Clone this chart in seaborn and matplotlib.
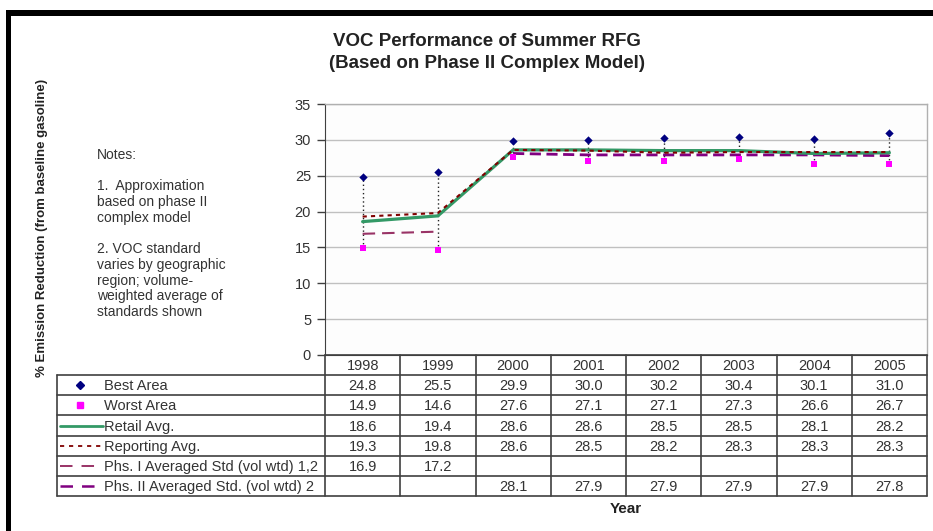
import numpy as np
import pandas as pd
import matplotlib
matplotlib.use("Agg")
import matplotlib.pyplot as plt
import seaborn as sns
from matplotlib.patches import Rectangle

# ---- data ----
years = ["1998", "1999", "2000", "2001", "2002", "2003", "2004", "2005"]
best_area = [24.8, 25.5, 29.9, 30.0, 30.2, 30.4, 30.1, 31.0]
worst_area = [14.9, 14.6, 27.6, 27.1, 27.1, 27.3, 26.6, 26.7]
retail_avg = [18.6, 19.4, 28.6, 28.6, 28.5, 28.5, 28.1, 28.2]
reporting_avg = [19.3, 19.8, 28.6, 28.5, 28.2, 28.3, 28.3, 28.3]
phs1_std = [16.9, 17.2, np.nan, np.nan, np.nan, np.nan, np.nan, np.nan]
phs2_std = [np.nan, np.nan, 28.1, 27.9, 27.9, 27.9, 27.9, 27.8]

series_names = ["Best Area", "Worst Area", "Retail Avg.", "Reporting Avg.",
                "Phs. I Averaged Std (vol wtd) 1,2",
                "Phs. II Averaged Std. (vol wtd) 2"]

df = pd.DataFrame({
    "year": years,
    "pos": np.arange(len(years)) + 0.5,
    "best": best_area,
    "worst": worst_area,
    "retail": retail_avg,
    "reporting": reporting_avg,
    "phs1": phs1_std,
    "phs2": phs2_std,
})

sns.set_style("white")
plt.rcParams["font.family"] = ["Liberation Sans", "DejaVu Sans"]
plt.rcParams["lines.scale_dashes"] = False
TXT = "#222222"
FS = 10.5  # table / tick text

W, H = 933, 531
fig = plt.figure(figsize=(W / 100, H / 100), dpi=100)

def fx(px):
    return px / W

def fy(py):
    return 1 - py / H

# plot area
L, R, T, B = 325, 927, 104, 355
ax = fig.add_axes([fx(L), fy(B), fx(R - L), (B - T) / H])

# high-low lines
ax.vlines(df["pos"], df["worst"], df["best"], colors="#222222",
          linestyles=(0, (1, 2)), linewidth=1, zorder=2)

sns.lineplot(data=df, x="pos", y="retail", ax=ax, color="#339966",
             linewidth=2.3, zorder=4)
sns.lineplot(data=df, x="pos", y="reporting", ax=ax, color="#800000",
             linewidth=1.5, linestyle=(0, (3, 3)), zorder=5)
sns.lineplot(data=df.dropna(subset=["phs1"]), x="pos", y="phs1", ax=ax,
             color="#993366", linewidth=1.5, linestyle=(0, (9, 5)), zorder=3)
sns.lineplot(data=df.dropna(subset=["phs2"]), x="pos", y="phs2", ax=ax,
             color="#800080", linewidth=2.0, linestyle=(0, (8, 4)), zorder=3)
sns.scatterplot(data=df, x="pos", y="best", ax=ax, marker="D", s=18,
                color="#000080", linewidth=0, zorder=6)
sns.scatterplot(data=df, x="pos", y="worst", ax=ax, marker="s", s=24,
                color="#FF00FF", linewidth=0, zorder=6)

ax.set_xlim(0, len(years))
ax.set_ylim(0, 35)
ax.set_yticks(np.arange(0, 36, 5))
ax.set_xticks([])
ax.set_xlabel("")
ax.set_ylabel("")
ax.yaxis.grid(True, color="#c0c0c0", linewidth=1)
ax.set_axisbelow(True)
ax.tick_params(axis="y", which="major", direction="out", length=6, width=1,
               color="#404040", labelsize=FS, labelcolor="#333333", pad=4, left=True)
for side in ["top", "right"]:
    ax.spines[side].set_color("#b0b0b0")
    ax.spines[side].set_linewidth(1)
ax.spines["left"].set_color("#404040")
ax.spines["bottom"].set_color("#404040")
ax.set_facecolor("#fdfdfd")

# data table under the plot
TL, TB = 57, 496
n = len(years)
col_w = (R - L) / n
x_left = (TL - L) / col_w
tab = fig.add_axes([fx(TL), fy(TB), fx(R - TL), (TB - B) / H])
tab.set_xlim(x_left, n)
tab.set_ylim(7, 0)
tab.axis("off")

lc = "#404040"
tab.plot([0, n], [0, 0], color=lc, lw=1.2, clip_on=False)
for r in range(1, 8):
    tab.plot([x_left, n], [r, r], color=lc, lw=1.2, clip_on=False)
for c in range(0, n + 1):
    tab.plot([c, c], [0, 7], color=lc, lw=1.2, clip_on=False)
tab.plot([x_left, x_left], [1, 7], color=lc, lw=1.2, clip_on=False)

rows = [best_area, worst_area, retail_avg, reporting_avg, phs1_std, phs2_std]
for c, yr in enumerate(years):
    tab.text(c + 0.5, 0.55, yr, ha="center", va="center", fontsize=FS, color="#333333")
    for r, vals in enumerate(rows):
        v = vals[c]
        if not np.isnan(v):
            tab.text(c + 0.5, r + 1.55, f"{v:.1f}", ha="center", va="center",
                     fontsize=FS, color="#333333")

def tx(px):
    return (px - L) / col_w

# legend keys in the first column
tab.plot([tx(80)], [1.5], marker="D", ms=4.2, color="#000080", ls="none", clip_on=False)
tab.plot([tx(80)], [2.5], marker="s", ms=4.8, color="#FF00FF", ls="none", clip_on=False)
tab.plot([tx(60), tx(103)], [3.5, 3.5], color="#339966", lw=2.0, clip_on=False)
tab.plot([tx(60), tx(101)], [4.5, 4.5], color="#800000", lw=1.3,
         ls=(0, (3, 3.5)), clip_on=False)
tab.plot([tx(60), tx(98)], [5.5, 5.5], color="#993366", lw=1.4,
         ls=(0, (9, 6.5)), clip_on=False)
tab.plot([tx(60), tx(98)], [6.5, 6.5], color="#800080", lw=1.8,
         ls=(0, (9, 6.5)), clip_on=False)
for r, name in enumerate(series_names):
    tab.text(tx(104), r + 1.55, name, ha="left", va="center", fontsize=FS, color="#333333")

# titles and labels
fig.text(fx(487), fy(41), "VOC Performance of Summer RFG", ha="center", va="center",
         fontsize=13.5, fontweight="bold", color=TXT)
fig.text(fx(487), fy(63), "(Based on Phase II Complex Model)", ha="center", va="center",
         fontsize=13.5, fontweight="bold", color=TXT)
fig.text(fx(42), fy(228), "% Emission Reduction (from baseline gasoline)", rotation=90,
         ha="center", va="center", fontsize=9.5, fontweight="bold", color=TXT)
fig.text(fx(626), fy(509), "Year", ha="center", va="center", fontsize=11,
         fontweight="bold", color=TXT)

notes = ["Notes:", "", "1.  Approximation", "based on phase II", "complex model", "",
         "2. VOC standard", "varies by geographic", "region; volume-",
         "weighted average of", "standards shown"]
for i, line in enumerate(notes):
    fig.text(fx(97), fy(155 + i * 15.7), line, ha="left", va="center",
             fontsize=10, color="#333333")

# black frame on top and left
fig.add_artist(Rectangle((fx(6), fy(16)), 1 - fx(6), 6 / H, transform=fig.transFigure,
                         facecolor="black", edgecolor="none"))
fig.add_artist(Rectangle((fx(6), 0), 5 / W, fy(10), transform=fig.transFigure,
                         facecolor="black", edgecolor="none"))

fig.savefig("out.png", dpi=100)
